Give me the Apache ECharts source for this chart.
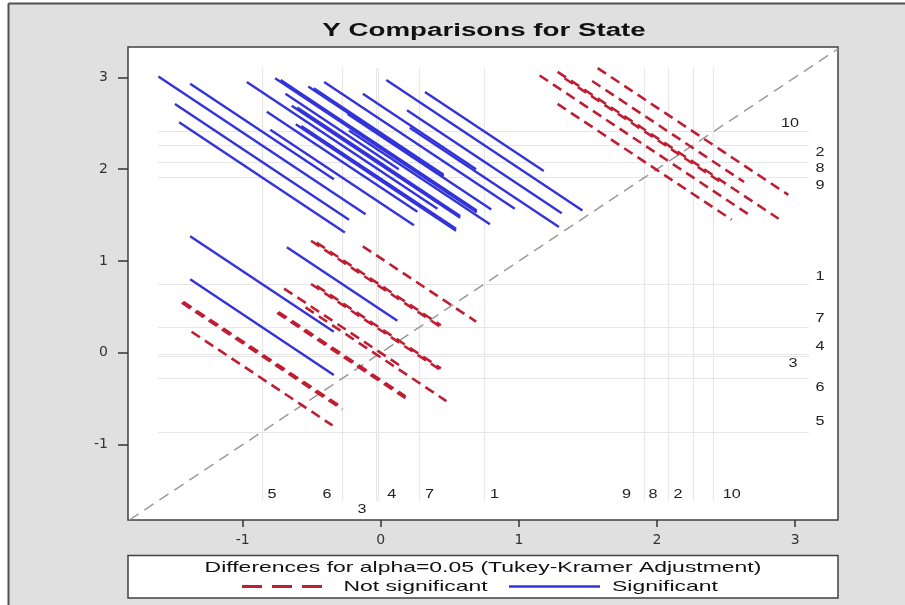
<!DOCTYPE html>
<html>
<head>
<meta charset="utf-8">
<script src="https://cdn.jsdelivr.net/npm/echarts@6/dist/echarts.min.js"></script>
<style>
  html, body { margin: 0; padding: 0; background: #ffffff; }
  #chart { width: 905px; height: 605px; }
</style>
</head>
<body>
<div id="chart"></div>
<script>
// State levels and their least-squares means
const levels  = ['1', '2', '3', '4', '5', '6', '7', '8', '9', '10'];
const lsMeans = [0.75, 2.26, -0.035, -0.015, -0.86, -0.28, 0.28, 2.08, 1.91, 2.41];

// Pairwise comparisons: [level with lower mean, level with higher mean]
const pairs = [
  ['5', '10'], ['5', '2'], ['5', '8'], ['5', '9'],
  ['6', '10'], ['6', '2'], ['6', '8'], ['6', '9'],
  ['3', '10'], ['3', '2'], ['3', '8'], ['3', '9'],
  ['4', '10'], ['4', '2'], ['4', '8'], ['4', '9'],
  ['7', '10'], ['7', '2'], ['7', '8'], ['7', '9'],
  ['1', '10'], ['1', '2'], ['1', '8'], ['1', '9'],
  ['5', '6'], ['5', '3'], ['5', '4'], ['5', '7'], ['5', '1'],
  ['6', '3'], ['6', '4'], ['6', '7'], ['6', '1'],
  ['3', '4'], ['3', '7'], ['3', '1'],
  ['4', '7'], ['4', '1'],
  ['7', '1'],
  ['9', '8'], ['9', '2'], ['9', '10'],
  ['8', '2'], ['8', '10'],
  ['2', '10']
];

// Half-length of each comparison segment along each axis (Tukey-Kramer interval / 2)
const halfWidths = [
  0.52, 0.75, 0.63, 0.60,
  0.41, 0.69, 0.545, 0.52,
  0.49, 0.73, 0.61, 0.58,
  0.47, 0.71, 0.59, 0.56,
  0.41, 0.69, 0.52, 0.51,
  0.43, 0.71, 0.56, 0.54,
  0.51, 0.58, 0.57, 0.52, 0.52,
  0.47, 0.46, 0.42, 0.40,
  0.51, 0.47, 0.47,
  0.45, 0.45,
  0.41,
  0.63, 0.76, 0.58,
  0.80, 0.55,
  0.69
];

const tickValues = [-1, 0, 1, 2, 3];

// ---- layout / style settings ----
const X_MIN = -1.83, X_MAX = 3.31, Y_MIN = -1.82, Y_MAX = 3.33;
const RED = '#bf1e32', BLUE = '#3333d8', REF = '#e6e6e6';
// pixel shifts of the level labels relative to their reference line ends
const bottomLabelShift = {
  '1': [10, -6.5], '2': [-15, -6.5], '3': [-14, 8.5], '4': [13, -6.5], '5': [10, -6.5],
  '6': [-15, -6.5], '7': [10, -6.5], '8': [-15, -6.5], '9': [-18, -6.5], '10': [18, -6.5]
};
const rightLabelShift = {
  '1': [11, -7], '2': [11, 7.7], '3': [-16, 8], '4': [11, -8], '5': [11, -9.7],
  '6': [11, 9], '7': [11, -8.7], '8': [11, 7], '9': [11, 8.3], '10': [-19, -7.7]
};

const meanOf = name => lsMeans[levels.indexOf(name)];

// Build the diffogram segments: centred at (mean_low, mean_high), at -45 degrees
const notSig = [], sig = [];
let refLo = Infinity, refHi = -Infinity;
pairs.forEach(([a, b], k) => {
  const ma = meanOf(a), mb = meanOf(b), h = halfWidths[k];
  const p1 = [ma - h, mb + h], p2 = [ma + h, mb - h];
  refLo = Math.min(refLo, p1[0], p1[1], p2[0], p2[1]);
  refHi = Math.max(refHi, p1[0], p1[1], p2[0], p2[1]);
  const item = { coords: [p1, p2] };
  if (Math.abs(mb - ma) > 2 * h) sig.push(item); else notSig.push(item);
});

// Reference lines at each mean, spanning the range of the segments
const refLines = [];
lsMeans.forEach(m => {
  refLines.push({ coords: [[m, refLo], [m, refHi]] });
  refLines.push({ coords: [[refLo, m], [refHi, m]] });
});

const diagLo = Math.max(X_MIN, Y_MIN), diagHi = Math.min(X_MAX, Y_MAX);

function labelSeries(data, shifts) {
  return {
    type: 'custom',
    coordinateSystem: 'cartesian2d',
    silent: true,
    z: 5,
    data: data,
    renderItem: function (params, api) {
      const name = levels[api.value(2)];
      const p = api.coord([api.value(0), api.value(1)]);
      const s = shifts[name];
      return {
        type: 'text',
        x: p[0] + s[0],
        y: p[1] + s[1],
        scaleX: 1.35,
        style: {
          text: name,
          fill: '#222222',
          font: '12px "Liberation Sans", Arial, sans-serif',
          align: 'center',
          verticalAlign: 'middle'
        }
      };
    }
  };
}

const chart = echarts.init(document.getElementById('chart'));
chart.setOption({
  animation: false,
  backgroundColor: '#e0e0e0',
  grid: {
    left: 128, right: 67, top: 47, bottom: 85,
    show: true, backgroundColor: '#ffffff', borderColor: '#404040', borderWidth: 1.5
  },
  xAxis: {
    type: 'value', min: X_MIN, max: X_MAX, position: 'bottom',
    axisLine: { show: false, onZero: false },
    splitLine: { show: false },
    axisTick: { show: true, inside: false, length: 7, customValues: tickValues, lineStyle: { color: '#333', width: 1.5 } },
    axisLabel: {
      customValues: tickValues, margin: 13, color: '#333',
      fontSize: 14, fontFamily: '"DejaVu Sans", sans-serif'
    }
  },
  yAxis: {
    type: 'value', min: Y_MIN, max: Y_MAX, position: 'left',
    axisLine: { show: false, onZero: false },
    splitLine: { show: false },
    axisTick: { show: true, inside: false, length: 10, customValues: tickValues, lineStyle: { color: '#333', width: 1.5 } },
    axisLabel: {
      customValues: tickValues, margin: 20, color: '#333',
      fontSize: 14, fontFamily: '"DejaVu Sans", sans-serif'
    }
  },
  series: [
    {
      type: 'lines', coordinateSystem: 'cartesian2d', silent: true, z: 1,
      lineStyle: { color: REF, width: 1.2, opacity: 1 },
      data: refLines
    },
    {
      type: 'lines', coordinateSystem: 'cartesian2d', silent: true, z: 2,
      lineStyle: { color: '#9a9a9a', width: 1.5, type: [11, 7], opacity: 1 },
      data: [{ coords: [[diagLo, diagLo], [diagHi, diagHi]] }]
    },
    {
      name: 'Not significant',
      type: 'lines', coordinateSystem: 'cartesian2d', silent: true, z: 3,
      lineStyle: { color: RED, width: 2.6, type: [10, 6], opacity: 1 },
      data: notSig
    },
    {
      name: 'Significant',
      type: 'lines', coordinateSystem: 'cartesian2d', silent: true, z: 3,
      lineStyle: { color: BLUE, width: 2.4, opacity: 1 },
      data: sig
    },
    labelSeries(lsMeans.map((m, i) => [m, refLo, i]), bottomLabelShift),
    labelSeries(lsMeans.map((m, i) => [refHi, m, i]), rightLabelShift)
  ],
  graphic: [
    // page frame
    { type: 'rect', shape: { x: 0, y: 0, width: 8, height: 605 }, style: { fill: '#ffffff' }, silent: true },
    { type: 'rect', shape: { x: 0, y: 0, width: 905, height: 3 }, style: { fill: '#ffffff' }, silent: true },
    { type: 'line', shape: { x1: 8.5, y1: 3.5, x2: 8.5, y2: 605 }, style: { stroke: '#505050', lineWidth: 2 }, silent: true },
    { type: 'line', shape: { x1: 8.5, y1: 3.5, x2: 905, y2: 3.5 }, style: { stroke: '#505050', lineWidth: 2 }, silent: true },
    // title
    {
      type: 'text', x: 484, y: 31, scaleX: 1.54, silent: true,
      style: {
        text: 'Y Comparisons for State', fill: '#111',
        font: 'bold 18px "Liberation Sans", Arial, sans-serif',
        align: 'center', verticalAlign: 'middle'
      }
    },
    // legend box
    {
      type: 'rect', shape: { x: 128, y: 555.5, width: 710, height: 42.5 },
      style: { fill: '#ffffff', stroke: '#404040', lineWidth: 1.5 }, silent: true
    },
    {
      type: 'text', x: 483, y: 567.5, scaleX: 1.53, silent: true,
      style: {
        text: 'Differences for alpha=0.05 (Tukey-Kramer Adjustment)', fill: '#111',
        font: '15px "Liberation Sans", Arial, sans-serif',
        align: 'center', verticalAlign: 'middle'
      }
    },
    {
      type: 'line', shape: { x1: 242, y1: 586.5, x2: 324, y2: 586.5 }, silent: true,
      style: { stroke: RED, lineWidth: 3, lineDash: [20, 10] }
    },
    {
      type: 'text', x: 343.5, y: 586.5, scaleX: 1.53, silent: true,
      style: {
        text: 'Not significant', fill: '#111',
        font: '15px "Liberation Sans", Arial, sans-serif',
        align: 'left', verticalAlign: 'middle'
      }
    },
    {
      type: 'line', shape: { x1: 509, y1: 586.5, x2: 600, y2: 586.5 }, silent: true,
      style: { stroke: BLUE, lineWidth: 2.6 }
    },
    {
      type: 'text', x: 612, y: 586.5, scaleX: 1.53, silent: true,
      style: {
        text: 'Significant', fill: '#111',
        font: '15px "Liberation Sans", Arial, sans-serif',
        align: 'left', verticalAlign: 'middle'
      }
    }
  ]
});
</script>
</body>
</html>
